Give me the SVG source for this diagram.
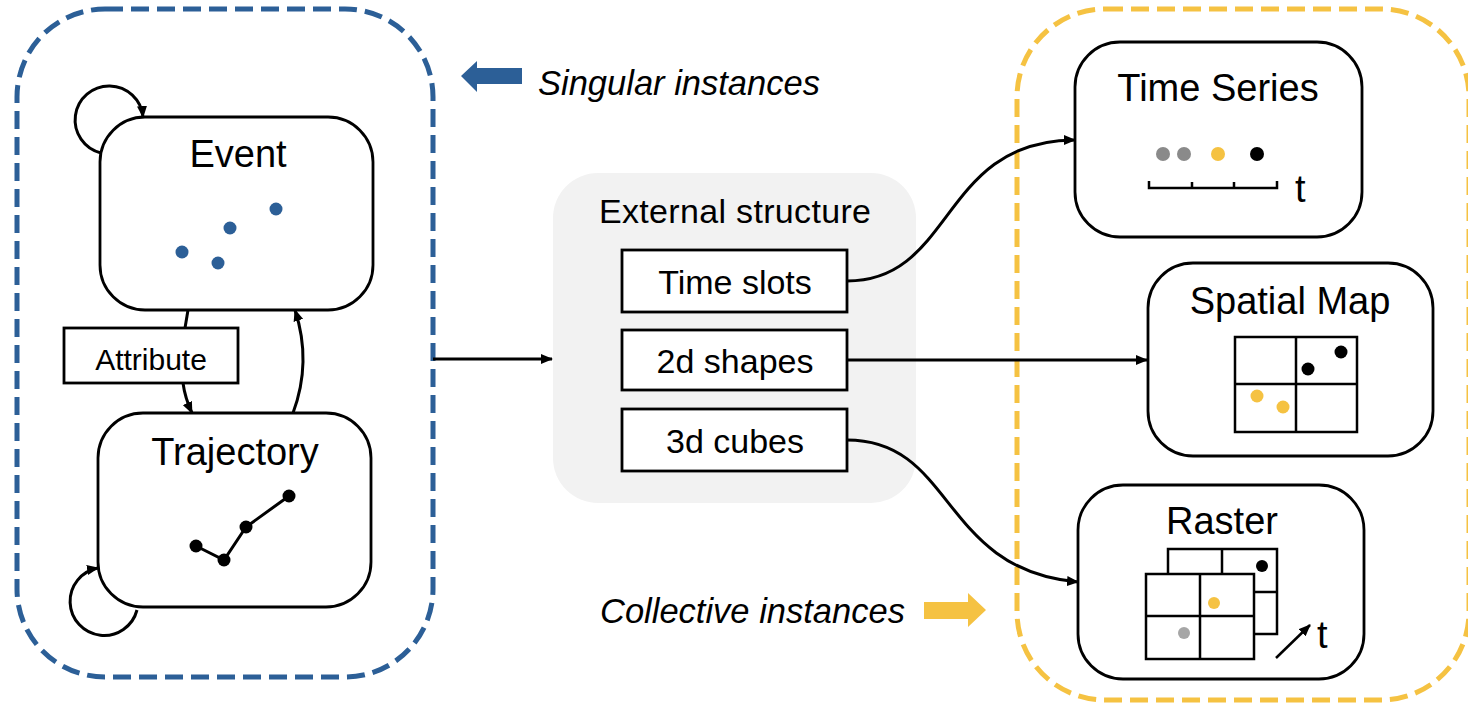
<svg xmlns="http://www.w3.org/2000/svg" width="1468" height="711" viewBox="0 0 1468 711">
  <style>
    .txt { font-family: "Liberation Sans", Arial, sans-serif; fill: #000; }
    .title { font-size: 38px; text-anchor: middle; }
    .item { font-size: 34px; text-anchor: middle; }
    .note { font-size: 34.5px; font-style: italic; }
    .node { fill: #fff; stroke: #000; stroke-width: 2.8; }
    .box { fill: #fff; stroke: #000; stroke-width: 2.8; }
    .grid { fill: #fff; stroke: #000; stroke-width: 2.5; }
    .edge { fill: none; stroke: #000; stroke-width: 3; }
    .tick { fill: none; stroke: #000; stroke-width: 2.5; }
    .frame { fill: none; stroke-width: 5; stroke-dasharray: 18 8; }
  </style>
  <defs>
    <marker id="arrow" viewBox="0 0 12 10" refX="11" refY="5" markerWidth="12" markerHeight="10" markerUnits="userSpaceOnUse" orient="auto">
      <path d="M0,0 L12,5 L0,10 Z" fill="#000"/>
    </marker>
  </defs>

  <rect width="1468" height="711" fill="#fff"/>

  <!-- group frames -->
  <g id="singular-frame">
    <rect class="frame" x="17" y="9" width="416" height="668" rx="88" stroke="#2c5f97"/>
  </g>
  <g id="collective-frame">
    <rect class="frame" x="1017" y="9" width="452" height="691" rx="88" stroke="#f5c242"/>
  </g>

  <!-- legend notes -->
  <g id="singular-note">
    <path d="M461,76 L477,61 L477,68 L522,68 L522,84 L477,84 L477,92 Z" fill="#2c5f97"/>
    <text class="txt note" x="538" y="95">Singular instances</text>
  </g>
  <g id="collective-note">
    <text class="txt note" x="600" y="623">Collective instances</text>
    <path d="M924,602 L968,602 L968,593 L986,610 L968,627 L968,619 L924,619 Z" fill="#f5c242"/>
  </g>

  <!-- nodes -->
  <g id="event">
    <rect class="node" x="100" y="117" width="273" height="193" rx="45"/>
    <text class="txt title" x="238" y="167">Event</text>
    <g fill="#2c5f97">
      <circle cx="276" cy="209" r="6.5"/>
      <circle cx="230" cy="228" r="6.5"/>
      <circle cx="182" cy="252" r="6.5"/>
      <circle cx="218" cy="263" r="6.5"/>
    </g>
  </g>

  <g id="trajectory">
    <rect class="node" x="98" y="413" width="273" height="194" rx="45"/>
    <text class="txt title" x="235" y="465">Trajectory</text>
    <polyline points="196,546 224,560 246,527 289,496" fill="none" stroke="#000" stroke-width="3"/>
    <g fill="#000">
      <circle cx="196" cy="546" r="6.5"/>
      <circle cx="224" cy="560" r="6.5"/>
      <circle cx="246" cy="527" r="6.5"/>
      <circle cx="289" cy="496" r="6.5"/>
    </g>
  </g>

  <g id="external-structure">
    <rect x="553" y="173" width="363" height="330" rx="45" fill="#f2f2f2"/>
    <text class="txt" x="735" y="223" font-size="34" text-anchor="middle" textLength="272">External structure</text>
    <g id="time-slots">
      <rect class="box" x="622" y="250" width="225" height="62"/>
      <text class="txt item" x="735" y="294">Time slots</text>
    </g>
    <g id="shapes-2d">
      <rect class="box" x="622" y="330" width="225" height="60"/>
      <text class="txt item" x="735" y="373">2d shapes</text>
    </g>
    <g id="cubes-3d">
      <rect class="box" x="622" y="409" width="225" height="62"/>
      <text class="txt item" x="735" y="453">3d cubes</text>
    </g>
  </g>

  <g id="time-series">
    <rect class="node" x="1075" y="42" width="287" height="195" rx="45"/>
    <text class="txt title" x="1218" y="101">Time Series</text>
    <circle cx="1163" cy="154" r="7" fill="#8a8a8a"/>
    <circle cx="1184" cy="154" r="7" fill="#8a8a8a"/>
    <circle cx="1218" cy="154" r="7" fill="#f5c242"/>
    <circle cx="1257" cy="154" r="7" fill="#000"/>
    <path class="tick" d="M1149,181 V188 H1277 V181 M1192,188 V182 M1234,188 V182"/>
    <text class="txt" x="1295" y="202" font-size="38">t</text>
  </g>

  <g id="spatial-map">
    <rect class="node" x="1148" y="263" width="285" height="193" rx="45"/>
    <text class="txt title" x="1290" y="314">Spatial Map</text>
    <rect class="grid" x="1235" y="337" width="122" height="95"/>
    <path class="tick" d="M1296,337 V432 M1235,384 H1357"/>
    <circle cx="1341" cy="352" r="6.5" fill="#000"/>
    <circle cx="1308" cy="369" r="6.5" fill="#000"/>
    <circle cx="1257" cy="396" r="6.5" fill="#f5c242"/>
    <circle cx="1283" cy="407" r="6.5" fill="#f5c242"/>
  </g>

  <g id="raster">
    <rect class="node" x="1078" y="485" width="286" height="194" rx="45"/>
    <text class="txt title" x="1222" y="534">Raster</text>
    <rect class="grid" x="1168" y="549" width="109" height="85"/>
    <path class="tick" d="M1222,549 V574 M1254,592 H1277"/>
    <circle cx="1262" cy="566" r="6" fill="#000"/>
    <rect class="grid" x="1146" y="574" width="108" height="85"/>
    <path class="tick" d="M1200,574 V659 M1146,616 H1254"/>
    <circle cx="1214" cy="603" r="6" fill="#f5c242"/>
    <circle cx="1184" cy="633" r="6" fill="#a6a6a6"/>
    <line x1="1276" y1="658" x2="1310" y2="625" stroke="#000" stroke-width="2.5" marker-end="url(#arrow)"/>
    <text class="txt" x="1317" y="648" font-size="38">t</text>
  </g>

  <g id="attribute">
    <rect class="box" x="64" y="328" width="174" height="55"/>
    <text class="txt" x="151" y="370" font-size="30" text-anchor="middle">Attribute</text>
  </g>

  <!-- connectors -->
  <g id="connectors">
    <path class="edge" d="M101,153 A34,34 0 1 1 143,117" marker-end="url(#arrow)"/>
    <path class="edge" d="M137,610 A34,34 0 1 1 98,568" marker-end="url(#arrow)"/>
    <path class="edge" d="M188,310 L185,328"/>
    <path class="edge" d="M183,383 Q185,398 192,413" marker-end="url(#arrow)"/>
    <path class="edge" d="M293,413 Q312,362 295,310" marker-end="url(#arrow)"/>
    <path class="edge" d="M433,359 L552,359" marker-end="url(#arrow)"/>
    <path class="edge" d="M847,281 C955,281 940,140 1075,140" marker-end="url(#arrow)"/>
    <path class="edge" d="M847,360 L1147,360" marker-end="url(#arrow)"/>
    <path class="edge" d="M847,440 C955,440 940,570 1078,582" marker-end="url(#arrow)"/>
  </g>
</svg>
